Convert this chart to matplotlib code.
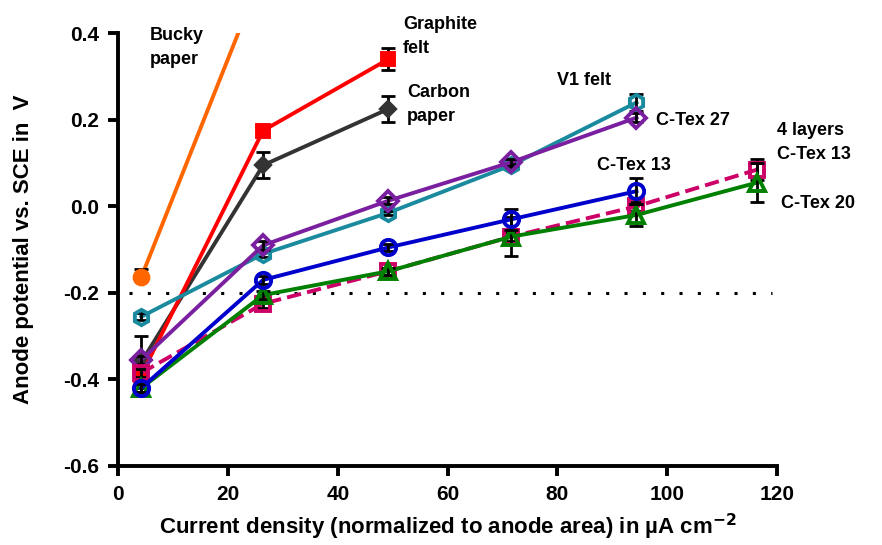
import numpy as np
import matplotlib
matplotlib.use("Agg")
import matplotlib.pyplot as plt

plt.rcParams['font.family'] = ['Liberation Sans', 'DejaVu Sans']
plt.rcParams['font.weight'] = 'bold'
narrow = ['Liberation Sans Narrow', 'Liberation Sans', 'DejaVu Sans']

# data (current density in uA cm-2, potential in V vs SCE)
x_all = [4.2, 26.4, 49.2, 71.6, 94.4, 116.4]

bucky_y = [-0.164, 0.545]
bucky_err = [[0, 0], [0.02, 0]]
graphite_y = [-0.39, 0.175, 0.34]
graphite_err = [0.005, 0.005, 0.025]
carbon_y = [-0.36, 0.095, 0.225]
carbon_err = [0.06, 0.03, 0.03]
v1_y = [-0.255, -0.11, -0.015, 0.095, 0.24]
v1_err = [0.008, 0.008, 0.005, 0.005, 0.02]
ctex27_y = [-0.355, -0.09, 0.013, 0.102, 0.205]
ctex27_err = [0.01, 0.01, 0.008, 0.008, 0.01]
ctex13_y = [-0.42, -0.17, -0.095, -0.03, 0.035]
ctex13_err = [0.01, 0.01, 0.008, 0.025, 0.03]
layers_y = [-0.385, -0.225, -0.15, -0.07, 0.0, 0.085]
layers_err = [0.01, 0.01, 0.008, 0.01, 0.01, 0.025]
ctex20_y = [-0.42, -0.205, -0.15, -0.07, -0.02, 0.055]
ctex20_err = [0.01, 0.01, 0.008, 0.045, 0.025, 0.045]

fig = plt.figure(figsize=(8.82, 5.45), dpi=100)
ax = fig.add_axes([0.134, 0.145, 0.747, 0.794])

def series(y, err, color, marker, filled, ls='-', z=2, ms=11):
    n = len(y)
    ax.plot(x_all[:n], y, ls, color=color, lw=2.8, zorder=z)
    ax.errorbar(x_all[:n], y, yerr=err, fmt='none', ecolor='k', elinewidth=2,
                capsize=5, capthick=2, zorder=z + 0.1)
    ax.plot(x_all[:n], y, linestyle='none', marker=marker, ms=ms,
            mfc=color if filled else 'none', mec=color, mew=2.8, zorder=z + 0.2)

ax.plot([2, 119], [-0.2, -0.2], ':', color='k', lw=2.2, dashes=(1, 5), zorder=1)

series(bucky_y, bucky_err, '#FF6600', 'o', True, z=2, ms=10)
series(graphite_y, graphite_err, '#FF0000', 's', True, z=3, ms=9)
series(carbon_y, carbon_err, '#333333', 'D', True, z=2.5, ms=7)
series(v1_y, v1_err, '#1A8A9E', 'h', False, z=4)
series(ctex27_y, ctex27_err, '#7A1FA0', 'D', False, z=5, ms=10)
series(layers_y, layers_err, '#CC0066', 's', False, ls='--', z=6, ms=10)
series(ctex20_y, ctex20_err, '#008000', '^', False, z=7)
series(ctex13_y, ctex13_err, '#0000CC', 'o', False, z=8)

ax.set_xlim(0, 120)
ax.set_ylim(-0.6, 0.4)
ax.set_xticks(np.arange(0, 121, 20))
ax.set_yticks(np.arange(-0.6, 0.41, 0.2))
ax.set_yticklabels(['-0.6', '-0.4', '-0.2', '0.0', '0.2', '0.4'])
for s in ['top', 'right']:
    ax.spines[s].set_visible(False)
for s in ['left', 'bottom']:
    ax.spines[s].set_linewidth(2.8)
ax.tick_params(width=2.8, length=7, labelsize=15, pad=7)
for lab in ax.get_xticklabels() + ax.get_yticklabels():
    lab.set_fontweight('bold')
    lab.set_family(narrow)

ax.set_ylabel('Anode potential vs. SCE in  V', fontsize=16, fontweight='bold')
ax.yaxis.set_label_coords(-0.128, 0.5)
ax.set_xlabel('Current density (normalized to anode area) in µA cm$^{\\mathbf{-2}}$',
              fontsize=16, fontweight='bold', labelpad=5, family=narrow)

kw = dict(fontsize=13, fontweight='bold', linespacing=1.55)
ax.text(5.8, 0.415, 'Bucky\npaper', va='top', ha='left', **kw)
ax.text(51.9, 0.44, 'Graphite\nfelt', va='top', ha='left', **kw)
ax.text(52.6, 0.282, 'Carbon\npaper', va='top', ha='left', **kw)
ax.text(80.0, 0.31, 'V1 felt', va='top', ha='left', **kw)
ax.text(98.0, 0.199, 'C-Tex 27', va='center', ha='left', **kw)
ax.text(120.0, 0.196, '4 layers\nC-Tex 13', va='top', ha='left', **kw)
ax.text(87.2, 0.095, 'C-Tex 13', va='center', ha='left', **kw)
ax.text(120.8, 0.007, 'C-Tex 20', va='center', ha='left', **kw)

fig.savefig('out.png', dpi=100)
